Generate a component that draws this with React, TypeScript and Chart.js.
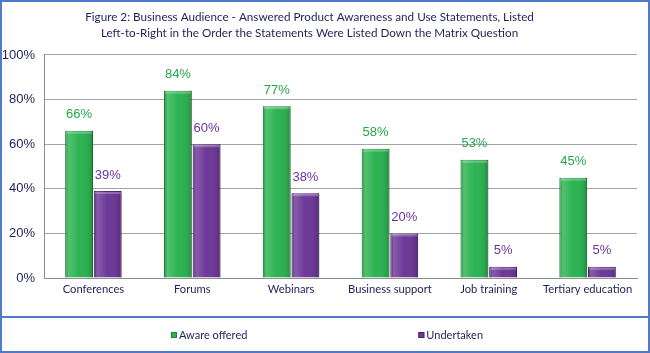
import React, { useEffect, useRef } from "react";
import { Chart, registerables } from "chart.js";

Chart.register(...registerables);

const categories = ["Conferences", "Forums", "Webinars", "Business support", "Job training", "Tertiary education"];
const awareOffered = [66, 84, 77, 58, 53, 45];
const undertaken = [39, 60, 38, 20, 5, 5];
const seriesNames = ["Aware offered", "Undertaken"];
const titleLines = [
  "Figure 2: Business Audience - Answered Product Awareness and Use Statements, Listed",
  "Left-to-Right in the Order the Statements Were Listed Down the Matrix Question",
];

const GREEN = "#2cb352";
const GREEN_EDGE = "#1d8a3b";
const PURPLE = "#6d3898";
const PURPLE_EDGE = "#4e2472";
const GREEN_TEXT = "#24a84a";
const PURPLE_TEXT = "#6a34a0";
const NAVY = "#1d2158";
const FRAME = "#4f7bc8";
const TITLE_SHIFT = "\u00a0\u00a0\u00a0\u00a0\u00a0\u00a0\u00a0";

const framePlugin = {
  id: "frame",
  beforeDraw(chart: any) {
    const ctx = chart.ctx;
    ctx.save();
    ctx.fillStyle = "#ffffff";
    ctx.fillRect(0, 0, chart.width, chart.height);
    ctx.restore();
  },
  afterDraw(chart: any) {
    const ctx = chart.ctx;
    const w = chart.width;
    const h = chart.height;
    ctx.save();
    ctx.strokeStyle = FRAME;
    ctx.lineWidth = 2;
    ctx.strokeRect(1, 1, w - 2, h - 2);
    ctx.beginPath();
    ctx.moveTo(0, 317);
    ctx.lineTo(w, 317);
    ctx.stroke();
    // legend
    ctx.font = "11px Lato";
    ctx.textBaseline = "middle";
    const colors = [GREEN, PURPLE];
    const edges = [GREEN_EDGE, PURPLE_EDGE];
    const box = 6;
    const gapText = 2;
    const itemGap = 171;
    const widths = seriesNames.map((n) => box + gapText + ctx.measureText(n).width);
    const total = widths[0] + itemGap + widths[1];
    let x = (w - total) / 2 + 2;
    const y = 335;
    seriesNames.forEach((n, i) => {
      ctx.fillStyle = colors[i];
      ctx.fillRect(x, y - 3, box, box);
      ctx.strokeStyle = edges[i];
      ctx.lineWidth = 1;
      ctx.strokeRect(x + 0.5, y - 2.5, box - 1, box - 1);
      ctx.fillStyle = NAVY;
      ctx.textAlign = "left";
      ctx.fillText(n, x + box + gapText, y);
      x += widths[i] + itemGap;
    });
    ctx.restore();
  },
};

const barDecor = {
  id: "barDecor",
  afterDatasetsDraw(chart: any) {
    const ctx = chart.ctx;
    ctx.save();
    chart.data.datasets.forEach((ds: any, di: number) => {
      const meta = chart.getDatasetMeta(di);
      meta.data.forEach((el: any, i: number) => {
        const { x, y, base, width } = el.getProps(["x", "y", "base", "width"], true);
        const left = x - width / 2;
        const g = ctx.createLinearGradient(left, 0, left + width, 0);
        g.addColorStop(0, "rgba(0,0,0,0.12)");
        g.addColorStop(0.12, "rgba(255,255,255,0.18)");
        g.addColorStop(0.5, "rgba(255,255,255,0.0)");
        g.addColorStop(0.88, "rgba(0,0,0,0.08)");
        g.addColorStop(1, "rgba(0,0,0,0.25)");
        ctx.fillStyle = g;
        ctx.fillRect(left, y, width, base - y);
        ctx.fillStyle = "rgba(255,255,255,0.25)";
        ctx.fillRect(left + 1, y + 1, width - 2, 2);
        ctx.font = "13px 'Liberation Sans', Arial, sans-serif";
        ctx.fillStyle = di === 0 ? GREEN_TEXT : PURPLE_TEXT;
        ctx.textAlign = "center";
        ctx.textBaseline = "middle";
        ctx.fillText(ds.data[i] + "%", x, y - 16);
      });
    });
    ctx.restore();
  },
};

export default function App() {
  const ref = useRef<HTMLCanvasElement | null>(null);
  useEffect(() => {
    document.body.style.margin = "0";
    const canvas = ref.current;
    if (!canvas) return;
    const chart = new Chart(canvas, {
      type: "bar",
      data: {
        labels: categories,
        datasets: [
          {
            label: seriesNames[0],
            data: awareOffered,
            backgroundColor: GREEN,
            borderColor: GREEN_EDGE,
            borderWidth: 1,
            categoryPercentage: 0.58,
            barPercentage: 0.97,
          },
          {
            label: seriesNames[1],
            data: undertaken,
            backgroundColor: PURPLE,
            borderColor: PURPLE_EDGE,
            borderWidth: 1,
            categoryPercentage: 0.58,
            barPercentage: 0.97,
          },
        ],
      },
      options: {
        responsive: false,
        animation: false,
        devicePixelRatio: 1,
        layout: { padding: { left: 3, right: 13, top: 0, bottom: 55 } },
        plugins: {
          legend: { display: false },
          tooltip: { enabled: false },
          title: {
            display: true,
            text: titleLines.map((t) => t + TITLE_SHIFT),
            color: NAVY,
            font: { family: "Lato", size: 11.7, weight: "normal", lineHeight: 1.38 },
            padding: { top: 9, bottom: 13.7 },
          },
        },
        scales: {
          x: {
            grid: { display: false, drawTicks: false },
            border: { display: true, color: "#8c8c8c", width: 1 },
            ticks: {
              color: NAVY,
              font: { family: "Lato", size: 11.2 },
              padding: 5,
              autoSkip: false,
              maxRotation: 0,
            },
            afterFit: (s: any) => {
              s.height = 20;
            },
          },
          y: {
            min: 0,
            max: 100,
            ticks: {
              stepSize: 20,
              color: NAVY,
              font: { family: "'Liberation Sans', Arial, sans-serif", size: 13 },
              padding: 9,
              callback: (v: any) => v + "%",
            },
            grid: { color: "#a3a3a3", lineWidth: 1, drawTicks: false },
            border: { display: true, color: "#8c8c8c", width: 1 },
            afterFit: (s: any) => {
              s.width = 41;
            },
          },
        },
      },
      plugins: [framePlugin, barDecor],
    });
    return () => chart.destroy();
  }, []);
  return (
    <div style={{ position: "absolute", left: 0, top: 0, width: 650, height: 353 }}>
      <canvas ref={ref} width={650} height={353} style={{ display: "block" }} />
    </div>
  );
}
